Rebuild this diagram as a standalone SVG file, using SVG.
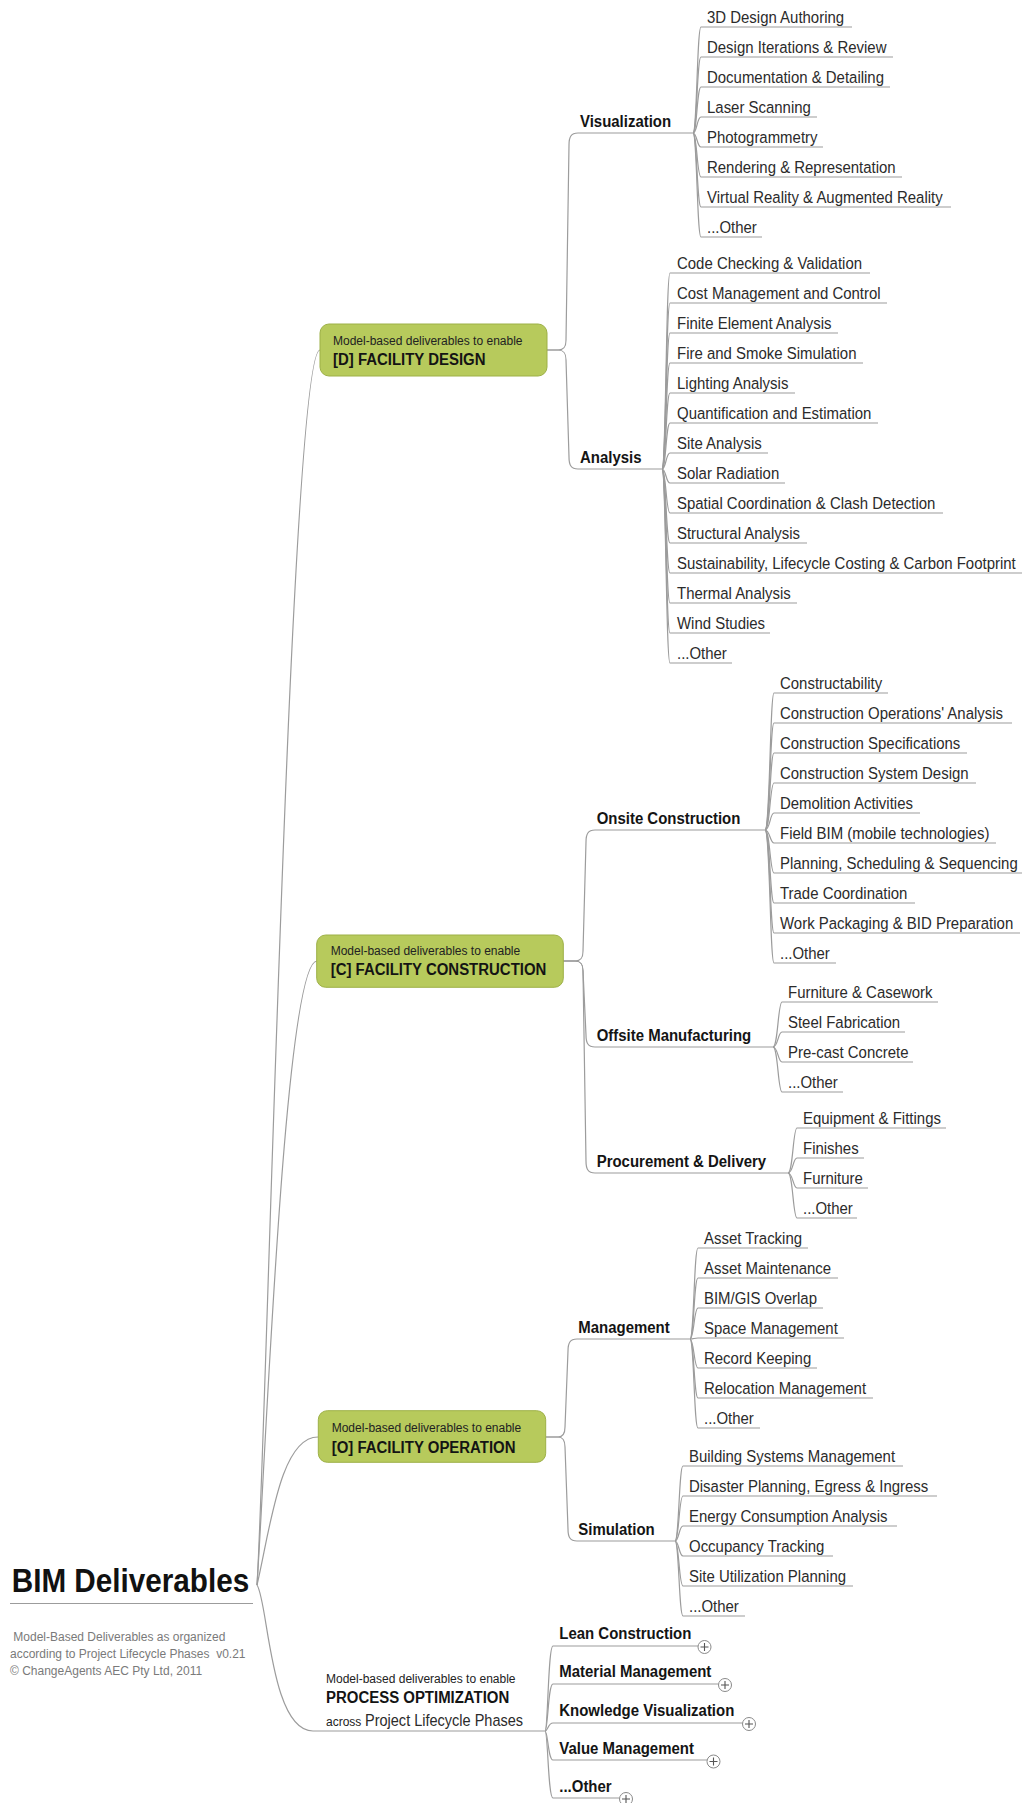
<svg xmlns="http://www.w3.org/2000/svg" width="1024" height="1803" viewBox="0 0 1024 1803">
  <style>
    text { font-family: "Liberation Sans", Arial, sans-serif; font-size: 17px; fill: #2b2b2b; }
    .b { font-weight: bold; fill: #141414; }
    .s { font-size: 13.5px; fill: #222; }
    .g { font-size: 13.5px; fill: #7a7a7a; }
    .title { font-size: 33px; font-weight: bold; fill: #111; }
    .c { fill: none; stroke: #9c9c9c; stroke-width: 1.2; }
    .box { fill: #b7ca5c; stroke: #9db047; stroke-width: 1; }
    .pm { fill: #fff; stroke: #8a8a8a; stroke-width: 1; }
    .pl { stroke: #555; stroke-width: 1.1; }
  </style>
  <rect width="1024" height="1803" fill="#fff"/>

  <!-- connectors -->
  <g id="connectors" class="c">
    <!-- root to phases -->
    <path d="M257 1585C266 1450 290 350 320 350"/>
    <path d="M257 1585C266 1450 285 961 317 961"/>
    <path d="M257 1585C270 1530 280 1437 318 1437"/>
    <path d="M257 1585C268 1600 270 1731 313 1731H545"/>
    <path d="M10 1603.5H253"/>
    <!-- design -->
    <path d="M547 350H558C564 350 566 347 566 340L569 145C569 137 571 133 578 133H693"/>
    <path d="M547 350H558C564 350 566 353 566 360L569 457C569 465 571 469 578 469H662"/>
    <!-- visualization -->
    <path d="M693 133C697 133 697 27 701 27H852"/>
    <path d="M693 133C697 133 697 57 701 57H893"/>
    <path d="M693 133C697 133 697 87 701 87H890"/>
    <path d="M693 133C697 133 697 117 701 117H817"/>
    <path d="M693 133C697 133 697 147 701 147H823"/>
    <path d="M693 133C697 133 697 177 701 177H902"/>
    <path d="M693 133C697 133 697 207 701 207H951"/>
    <path d="M693 133C697 133 697 237 701 237H762"/>
    <!-- analysis -->
    <path d="M662 469C666 469 666 273 670 273H870"/>
    <path d="M662 469C666 469 666 303 670 303H887"/>
    <path d="M662 469C666 469 666 333 670 333H838"/>
    <path d="M662 469C666 469 666 363 670 363H863"/>
    <path d="M662 469C666 469 666 393 670 393H795"/>
    <path d="M662 469C666 469 666 423 670 423H878"/>
    <path d="M662 469C666 469 666 453 670 453H768"/>
    <path d="M662 469C666 469 666 483 670 483H785"/>
    <path d="M662 469C666 469 666 513 670 513H943"/>
    <path d="M662 469C666 469 666 543 670 543H807"/>
    <path d="M662 469C666 469 666 573 670 573H1022"/>
    <path d="M662 469C666 469 666 603 670 603H797"/>
    <path d="M662 469C666 469 666 633 670 633H770"/>
    <path d="M662 469C666 469 666 663 670 663H732"/>
    <!-- construction -->
    <path d="M563 961H575C581 961 583 958 583 951L586 842C586 834 588 830 595 830H765"/>
    <path d="M563 961H575C581 961 583 964 583 971L586 1035C586 1043 588 1047 595 1047H773"/>
    <path d="M563 961H575C581 961 583 964 583 971L586 1161C586 1169 588 1173 595 1173H788"/>
    <!-- onsite -->
    <path d="M765 830C770 830 770 693 774 693H888"/>
    <path d="M765 830C770 830 770 723 774 723H1012"/>
    <path d="M765 830C770 830 770 753 774 753H967"/>
    <path d="M765 830C770 830 770 783 774 783H976"/>
    <path d="M765 830C770 830 770 813 774 813H920"/>
    <path d="M765 830C770 830 770 843 774 843H996"/>
    <path d="M765 830C770 830 770 873 774 873H1022"/>
    <path d="M765 830C770 830 770 903 774 903H915"/>
    <path d="M765 830C770 830 770 933 774 933H1020"/>
    <path d="M765 830C770 830 770 963 774 963H836"/>
    <!-- offsite -->
    <path d="M773 1047C778 1047 778 1002 782 1002H938"/>
    <path d="M773 1047C778 1047 778 1032 782 1032H905"/>
    <path d="M773 1047C778 1047 778 1062 782 1062H913"/>
    <path d="M773 1047C778 1047 778 1092 782 1092H843"/>
    <!-- procurement -->
    <path d="M788 1173C793 1173 793 1128 797 1128H946"/>
    <path d="M788 1173C793 1173 793 1158 797 1158H864"/>
    <path d="M788 1173C793 1173 793 1188 797 1188H868"/>
    <path d="M788 1173C793 1173 793 1218 797 1218H857"/>
    <!-- operation -->
    <path d="M546 1437H558C563 1437 565 1434 565 1427L568 1351C568 1343 570 1339 577 1339H690"/>
    <path d="M546 1437H558C563 1437 565 1440 565 1447L568 1529C568 1537 570 1541 577 1541H675"/>
    <!-- management -->
    <path d="M690 1339C694 1339 694 1248 698 1248H808"/>
    <path d="M690 1339C694 1339 694 1278 698 1278H838"/>
    <path d="M690 1339C694 1339 694 1308 698 1308H823"/>
    <path d="M690 1339C694 1339 694 1338 698 1338H844"/>
    <path d="M690 1339C694 1339 694 1368 698 1368H817"/>
    <path d="M690 1339C694 1339 694 1398 698 1398H873"/>
    <path d="M690 1339C694 1339 694 1428 698 1428H760"/>
    <!-- simulation -->
    <path d="M675 1541C679 1541 679 1466 683 1466H903"/>
    <path d="M675 1541C679 1541 679 1496 683 1496H937"/>
    <path d="M675 1541C679 1541 679 1526 683 1526H897"/>
    <path d="M675 1541C679 1541 679 1556 683 1556H833"/>
    <path d="M675 1541C679 1541 679 1586 683 1586H853"/>
    <path d="M675 1541C679 1541 679 1616 683 1616H745"/>
    <!-- process optimization -->
    <path d="M545 1731C548 1731 548 1646 553 1646H698"/>
    <path d="M545 1731C548 1731 548 1684 553 1684H718.5"/>
    <path d="M545 1731C548 1731 548 1723 553 1723H742.5"/>
    <path d="M545 1731C548 1731 548 1760 553 1760H707"/>
    <path d="M545 1731C548 1731 548 1798 553 1798H619.5"/>
  </g>

  <!-- root -->
  <g id="root">
    <text class="title" transform="translate(11.7 1591.7) scale(.9 1)">BIM Deliverables</text>
    <text class="g" transform="translate(13.3 1641) scale(.89 1)">Model-Based Deliverables as organized</text>
    <text class="g" xml:space="preserve" transform="translate(10 1658) scale(.89 1)">according to Project Lifecycle Phases  v0.21</text>
    <text class="g" transform="translate(10 1675) scale(.89 1)">© ChangeAgents AEC Pty Ltd, 2011</text>
  </g>

  <!-- phase nodes -->
  <g id="phase-design">
    <rect class="box" x="320" y="324" width="227" height="52" rx="9"/>
    <text class="s" transform="translate(333 345) scale(.89 1)">Model-based deliverables to enable</text>
    <text class="b" transform="translate(333 365) scale(.88 1)">[D] FACILITY DESIGN</text>
  </g>
  <g id="phase-construction">
    <rect class="box" x="316.7" y="935" width="246.6" height="52.3" rx="9"/>
    <text class="s" transform="translate(330.7 955) scale(.89 1)">Model-based deliverables to enable</text>
    <text class="b" transform="translate(330.7 975) scale(.88 1)">[C] FACILITY CONSTRUCTION</text>
  </g>
  <g id="phase-operation">
    <rect class="box" x="318.3" y="1410.7" width="227.4" height="51.6" rx="9"/>
    <text class="s" transform="translate(331.7 1431.7) scale(.89 1)">Model-based deliverables to enable</text>
    <text class="b" transform="translate(331.7 1452.7) scale(.88 1)">[O] FACILITY OPERATION</text>
  </g>
  <g id="phase-process">
    <text class="s" transform="translate(326 1682.7) scale(.89 1)">Model-based deliverables to enable</text>
    <text class="b" transform="translate(326 1702.7) scale(.88 1)">PROCESS OPTIMIZATION</text>
    <text class="s" transform="translate(326 1725.7) scale(.89 1)">across</text>
    <text transform="translate(365 1725.7) scale(.88 1)" style="font-size:16.5px">Project Lifecycle Phases</text>
  </g>

  <!-- design branches -->
  <g id="visualization">
    <text class="b" transform="translate(580 127) scale(.88 1)">Visualization</text>
    <text transform="translate(707 23) scale(.88 1)">3D Design Authoring</text>
    <text transform="translate(707 53) scale(.88 1)">Design Iterations &amp; Review</text>
    <text transform="translate(707 83) scale(.88 1)">Documentation &amp; Detailing</text>
    <text transform="translate(707 113) scale(.88 1)">Laser Scanning</text>
    <text transform="translate(707 143) scale(.88 1)">Photogrammetry</text>
    <text transform="translate(707 173) scale(.88 1)">Rendering &amp; Representation</text>
    <text transform="translate(707 203) scale(.88 1)">Virtual Reality &amp; Augmented Reality</text>
    <text transform="translate(707 233) scale(.88 1)">...Other</text>
  </g>
  <g id="analysis">
    <text class="b" transform="translate(580 463) scale(.88 1)">Analysis</text>
    <text transform="translate(677 269) scale(.88 1)">Code Checking &amp; Validation</text>
    <text transform="translate(677 299) scale(.88 1)">Cost Management and Control</text>
    <text transform="translate(677 329) scale(.88 1)">Finite Element Analysis</text>
    <text transform="translate(677 359) scale(.88 1)">Fire and Smoke Simulation</text>
    <text transform="translate(677 389) scale(.88 1)">Lighting Analysis</text>
    <text transform="translate(677 419) scale(.88 1)">Quantification and Estimation</text>
    <text transform="translate(677 449) scale(.88 1)">Site Analysis</text>
    <text transform="translate(677 479) scale(.88 1)">Solar Radiation</text>
    <text transform="translate(677 509) scale(.88 1)">Spatial Coordination &amp; Clash Detection</text>
    <text transform="translate(677 539) scale(.88 1)">Structural Analysis</text>
    <text transform="translate(677 569) scale(.88 1)">Sustainability, Lifecycle Costing &amp; Carbon Footprint</text>
    <text transform="translate(677 599) scale(.88 1)">Thermal Analysis</text>
    <text transform="translate(677 629) scale(.88 1)">Wind Studies</text>
    <text transform="translate(677 659) scale(.88 1)">...Other</text>
  </g>

  <!-- construction branches -->
  <g id="onsite">
    <text class="b" transform="translate(596.7 823.5) scale(.88 1)">Onsite Construction</text>
    <text transform="translate(780 689) scale(.88 1)">Constructability</text>
    <text transform="translate(780 719) scale(.88 1)">Construction Operations' Analysis</text>
    <text transform="translate(780 749) scale(.88 1)">Construction Specifications</text>
    <text transform="translate(780 779) scale(.88 1)">Construction System Design</text>
    <text transform="translate(780 809) scale(.88 1)">Demolition Activities</text>
    <text transform="translate(780 839) scale(.88 1)">Field BIM (mobile technologies)</text>
    <text transform="translate(780 869) scale(.88 1)">Planning, Scheduling &amp; Sequencing</text>
    <text transform="translate(780 899) scale(.88 1)">Trade Coordination</text>
    <text transform="translate(780 929) scale(.88 1)">Work Packaging &amp; BID Preparation</text>
    <text transform="translate(780 959) scale(.88 1)">...Other</text>
  </g>
  <g id="offsite">
    <text class="b" transform="translate(596.7 1040.5) scale(.88 1)">Offsite Manufacturing</text>
    <text transform="translate(788 998) scale(.88 1)">Furniture &amp; Casework</text>
    <text transform="translate(788 1028) scale(.88 1)">Steel Fabrication</text>
    <text transform="translate(788 1058) scale(.88 1)">Pre-cast Concrete</text>
    <text transform="translate(788 1088) scale(.88 1)">...Other</text>
  </g>
  <g id="procurement">
    <text class="b" transform="translate(596.7 1166.5) scale(.88 1)">Procurement &amp; Delivery</text>
    <text transform="translate(803 1124) scale(.88 1)">Equipment &amp; Fittings</text>
    <text transform="translate(803 1154) scale(.88 1)">Finishes</text>
    <text transform="translate(803 1184) scale(.88 1)">Furniture</text>
    <text transform="translate(803 1214) scale(.88 1)">...Other</text>
  </g>

  <!-- operation branches -->
  <g id="management">
    <text class="b" transform="translate(578.3 1333) scale(.88 1)">Management</text>
    <text transform="translate(704 1244) scale(.88 1)">Asset Tracking</text>
    <text transform="translate(704 1274) scale(.88 1)">Asset Maintenance</text>
    <text transform="translate(704 1304) scale(.88 1)">BIM/GIS Overlap</text>
    <text transform="translate(704 1334) scale(.88 1)">Space Management</text>
    <text transform="translate(704 1364) scale(.88 1)">Record Keeping</text>
    <text transform="translate(704 1394) scale(.88 1)">Relocation Management</text>
    <text transform="translate(704 1424) scale(.88 1)">...Other</text>
  </g>
  <g id="simulation">
    <text class="b" transform="translate(578.3 1535) scale(.88 1)">Simulation</text>
    <text transform="translate(689 1462) scale(.88 1)">Building Systems Management</text>
    <text transform="translate(689 1492) scale(.88 1)">Disaster Planning, Egress &amp; Ingress</text>
    <text transform="translate(689 1522) scale(.88 1)">Energy Consumption Analysis</text>
    <text transform="translate(689 1552) scale(.88 1)">Occupancy Tracking</text>
    <text transform="translate(689 1582) scale(.88 1)">Site Utilization Planning</text>
    <text transform="translate(689 1612) scale(.88 1)">...Other</text>
  </g>

  <!-- process optimization branches (collapsed) -->
  <g id="lean-construction">
    <text class="b" transform="translate(559.3 1639.3) scale(.88 1)">Lean Construction</text>
    <circle class="pm" cx="704.5" cy="1647" r="6.5"/>
    <path class="pl" d="M700.5 1647H708.5M704.5 1643V1651"/>
  </g>
  <g id="material-management">
    <text class="b" transform="translate(559.3 1677) scale(.88 1)">Material Management</text>
    <circle class="pm" cx="725" cy="1685" r="6.5"/>
    <path class="pl" d="M721 1685H729M725 1681V1689"/>
  </g>
  <g id="knowledge-visualization">
    <text class="b" transform="translate(559.3 1715.5) scale(.88 1)">Knowledge Visualization</text>
    <circle class="pm" cx="749" cy="1724" r="6.5"/>
    <path class="pl" d="M745 1724H753M749 1720V1728"/>
  </g>
  <g id="value-management">
    <text class="b" transform="translate(559.3 1753.5) scale(.88 1)">Value Management</text>
    <circle class="pm" cx="713.5" cy="1761.5" r="6.5"/>
    <path class="pl" d="M709.5 1761.5H717.5M713.5 1757.5V1765.5"/>
  </g>
  <g id="process-other">
    <text class="b" transform="translate(559.3 1791.7) scale(.88 1)">...Other</text>
    <circle class="pm" cx="626" cy="1799" r="6.5"/>
    <path class="pl" d="M622 1799H630M626 1795V1803"/>
  </g>
</svg>
